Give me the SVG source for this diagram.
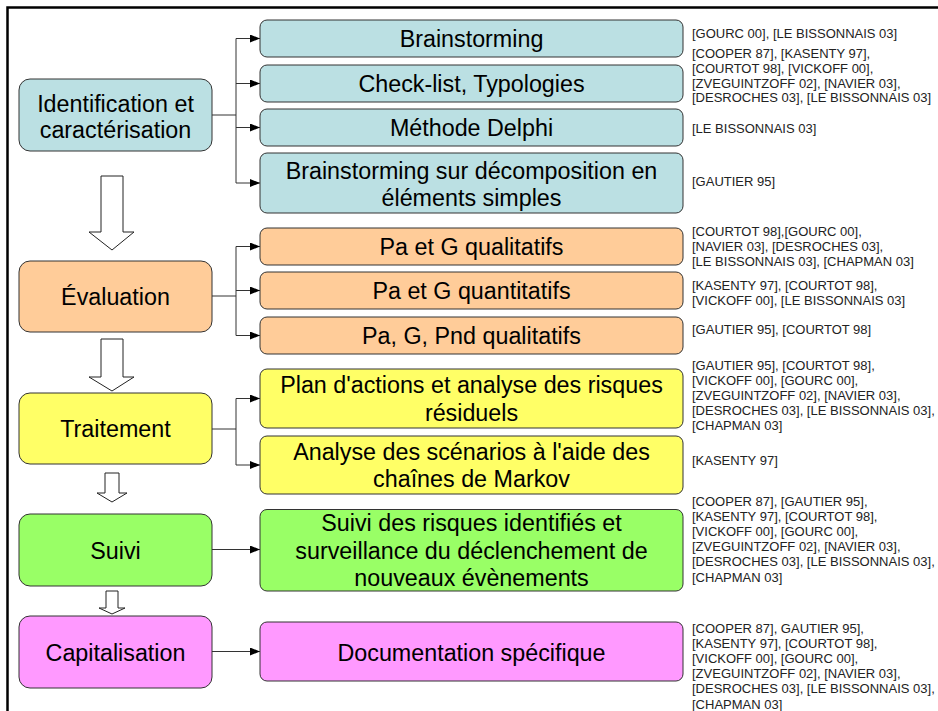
<svg xmlns="http://www.w3.org/2000/svg" width="938" height="711" viewBox="0 0 938 711">
<style>
.box{stroke:#333;stroke-width:1}
.blue{fill:#BBE0E3}.orange{fill:#FFCC99}.yellow{fill:#FFFF66}.green{fill:#99FF66}.pink{fill:#FF99FF}
.t{font-family:"Liberation Sans",Arial,sans-serif;font-size:23.3px;fill:#000;text-anchor:middle}
.ref{font-family:"Liberation Sans",Arial,sans-serif;font-size:13px;fill:#222}
.con{fill:none;stroke:#333;stroke-width:1}
.big{fill:#fff;stroke:#222;stroke-width:1}
</style>
<defs>
<marker id="ah" markerWidth="10" markerHeight="8" refX="10" refY="4" orient="auto" markerUnits="userSpaceOnUse"><path d="M0,0 L10,4 L0,8 z" fill="#000"/></marker>
</defs>
<rect width="938" height="711" fill="#fff"/>
<path d="M7.5,711 V7.5 H938" fill="none" stroke="#000" stroke-width="2.5"/>

<g id="arrows-big">
<polygon class="big" points="101,176 123,176 123,232 134,232 112,250 89,232 101,232"/>
<polygon class="big" points="101,339 123,339 123,377 134,377 112,391 89,377 101,377"/>
<polygon class="big" points="105,473 119,473 119,493 127,493 112,502 97,493 105,493"/>
<polygon class="big" points="106,591 118,591 118,608 125,608 112,614 99,608 106,608"/>
</g>

<g id="connectors">
<path class="con" d="M212,115 H236 M236,38.5 V183"/>
<path class="con" d="M236,38.5 H260" marker-end="url(#ah)"/>
<path class="con" d="M236,83.5 H260" marker-end="url(#ah)"/>
<path class="con" d="M236,127.5 H260" marker-end="url(#ah)"/>
<path class="con" d="M236,183 H260" marker-end="url(#ah)"/>
<path class="con" d="M212,296 H236 M236,246.5 V335.5" stroke-width="1.3"/>
<path class="con" d="M236,246.5 H260" marker-end="url(#ah)"/>
<path class="con" d="M236,290.5 H260" marker-end="url(#ah)"/>
<path class="con" d="M236,335.5 H260" marker-end="url(#ah)"/>
<path class="con" d="M212,429 H236 M236,398.5 V465"/>
<path class="con" d="M236,398.5 H260" marker-end="url(#ah)"/>
<path class="con" d="M236,465 H260" marker-end="url(#ah)"/>
<path class="con" d="M212,549.5 H260" marker-end="url(#ah)"/>
<path class="con" d="M212,651.5 H260" marker-end="url(#ah)"/>
</g>

<g id="n-identification">
<rect class="box blue" x="19" y="79" width="193" height="72" rx="11"/>
<text class="t" x="115.5" y="111.7">Identification et</text>
<text class="t" x="115.5" y="138.3">caractérisation</text>
</g>
<g id="n-evaluation">
<rect class="box orange" x="19" y="261" width="193" height="71" rx="11"/>
<text class="t" x="115.5" y="305">Évaluation</text>
</g>
<g id="n-traitement">
<rect class="box yellow" x="19" y="393" width="193" height="71" rx="11"/>
<text class="t" x="115.5" y="437.3">Traitement</text>
</g>
<g id="n-suivi">
<rect class="box green" x="19" y="514" width="193" height="72" rx="11"/>
<text class="t" x="115.5" y="559">Suivi</text>
</g>
<g id="n-capitalisation">
<rect class="box pink" x="19" y="616" width="193" height="72" rx="11"/>
<text class="t" x="115.5" y="660.5">Capitalisation</text>
</g>

<g id="n-brainstorming">
<rect class="box blue" x="260" y="20" width="423" height="37" rx="7"/>
<text class="t" x="471.5" y="46.8">Brainstorming</text>
</g>
<g id="n-checklist">
<rect class="box blue" x="260" y="65" width="423" height="37" rx="7"/>
<text class="t" x="471.5" y="91.8">Check-list, Typologies</text>
</g>
<g id="n-delphi">
<rect class="box blue" x="260" y="109" width="423" height="37" rx="7"/>
<text class="t" x="471.5" y="135.8">Méthode Delphi</text>
</g>
<g id="n-decomposition">
<rect class="box blue" x="260" y="153" width="423" height="60" rx="7"/>
<text class="t" x="471.5" y="178.5">Brainstorming sur décomposition en</text>
<text class="t" x="471.5" y="205.5">éléments simples</text>
</g>
<g id="n-qualitatifs">
<rect class="box orange" x="260" y="228" width="423" height="37" rx="7"/>
<text class="t" x="471.5" y="255">Pa et G qualitatifs</text>
</g>
<g id="n-quantitatifs">
<rect class="box orange" x="260" y="272" width="423" height="37" rx="7"/>
<text class="t" x="471.5" y="299.2">Pa et G quantitatifs</text>
</g>
<g id="n-pnd">
<rect class="box orange" x="260" y="317" width="423" height="37" rx="7"/>
<text class="t" x="471.5" y="343.8">Pa, G, Pnd qualitatifs</text>
</g>
<g id="n-plan">
<rect class="box yellow" x="260" y="369" width="423" height="59" rx="7"/>
<text class="t" x="471.5" y="393.3">Plan d'actions et analyse des risques</text>
<text class="t" x="471.5" y="420.5">résiduels</text>
</g>
<g id="n-markov">
<rect class="box yellow" x="260" y="436" width="423" height="58" rx="7"/>
<text class="t" x="471.5" y="460">Analyse des scénarios à l'aide des</text>
<text class="t" x="471.5" y="487">chaînes de Markov</text>
</g>
<g id="n-suivi-risques">
<rect class="box green" x="260" y="509.5" width="423" height="81.5" rx="7"/>
<text class="t" x="471.5" y="531">Suivi des risques identifiés et</text>
<text class="t" x="471.5" y="558.6">surveillance du déclenchement de</text>
<text class="t" x="471.5" y="586.2">nouveaux évènements</text>
</g>
<g id="n-documentation">
<rect class="box pink" x="260" y="622" width="423" height="59" rx="7"/>
<text class="t" x="471.5" y="660.5">Documentation spécifique</text>
</g>

<g id="references">
<text class="ref" x="692" y="37.5">[GOURC 00], [LE BISSONNAIS 03]</text>
<text class="ref" x="692" y="57.7">[COOPER 87], [KASENTY 97],</text>
<text class="ref" x="692" y="72.6">[COURTOT 98], [VICKOFF 00],</text>
<text class="ref" x="692" y="87.5">[ZVEGUINTZOFF 02], [NAVIER 03],</text>
<text class="ref" x="692" y="102.4">[DESROCHES 03], [LE BISSONNAIS 03]</text>
<text class="ref" x="692" y="132.7">[LE BISSONNAIS 03]</text>
<text class="ref" x="692" y="186">[GAUTIER 95]</text>
<text class="ref" x="692" y="236">[COURTOT 98],[GOURC 00],</text>
<text class="ref" x="692" y="251">[NAVIER 03], [DESROCHES 03],</text>
<text class="ref" x="692" y="266">[LE BISSONNAIS 03], [CHAPMAN 03]</text>
<text class="ref" x="692" y="289.5">[KASENTY 97], [COURTOT 98],</text>
<text class="ref" x="692" y="304.5">[VICKOFF 00], [LE BISSONNAIS 03]</text>
<text class="ref" x="692" y="333.5">[GAUTIER 95], [COURTOT 98]</text>
<text class="ref" x="692" y="369.5">[GAUTIER 95], [COURTOT 98],</text>
<text class="ref" x="692" y="384.5">[VICKOFF 00], [GOURC 00],</text>
<text class="ref" x="692" y="399.5">[ZVEGUINTZOFF 02], [NAVIER 03],</text>
<text class="ref" x="692" y="414.5">[DESROCHES 03], [LE BISSONNAIS 03],</text>
<text class="ref" x="692" y="429.5">[CHAPMAN 03]</text>
<text class="ref" x="692" y="465">[KASENTY 97]</text>
<text class="ref" x="692" y="506">[COOPER 87], [GAUTIER 95],</text>
<text class="ref" x="692" y="521.1">[KASENTY 97], [COURTOT 98],</text>
<text class="ref" x="692" y="536.2">[VICKOFF 00], [GOURC 00],</text>
<text class="ref" x="692" y="551.3">[ZVEGUINTZOFF 02], [NAVIER 03],</text>
<text class="ref" x="692" y="566.4">[DESROCHES 03], [LE BISSONNAIS 03],</text>
<text class="ref" x="692" y="581.5">[CHAPMAN 03]</text>
<text class="ref" x="692" y="633">[COOPER 87], GAUTIER 95],</text>
<text class="ref" x="692" y="648.1">[KASENTY 97], [COURTOT 98],</text>
<text class="ref" x="692" y="663.2">[VICKOFF 00], [GOURC 00],</text>
<text class="ref" x="692" y="678.3">[ZVEGUINTZOFF 02], [NAVIER 03],</text>
<text class="ref" x="692" y="693.4">[DESROCHES 03], [LE BISSONNAIS 03],</text>
<text class="ref" x="692" y="708.5">[CHAPMAN 03]</text>
</g>
</svg>
